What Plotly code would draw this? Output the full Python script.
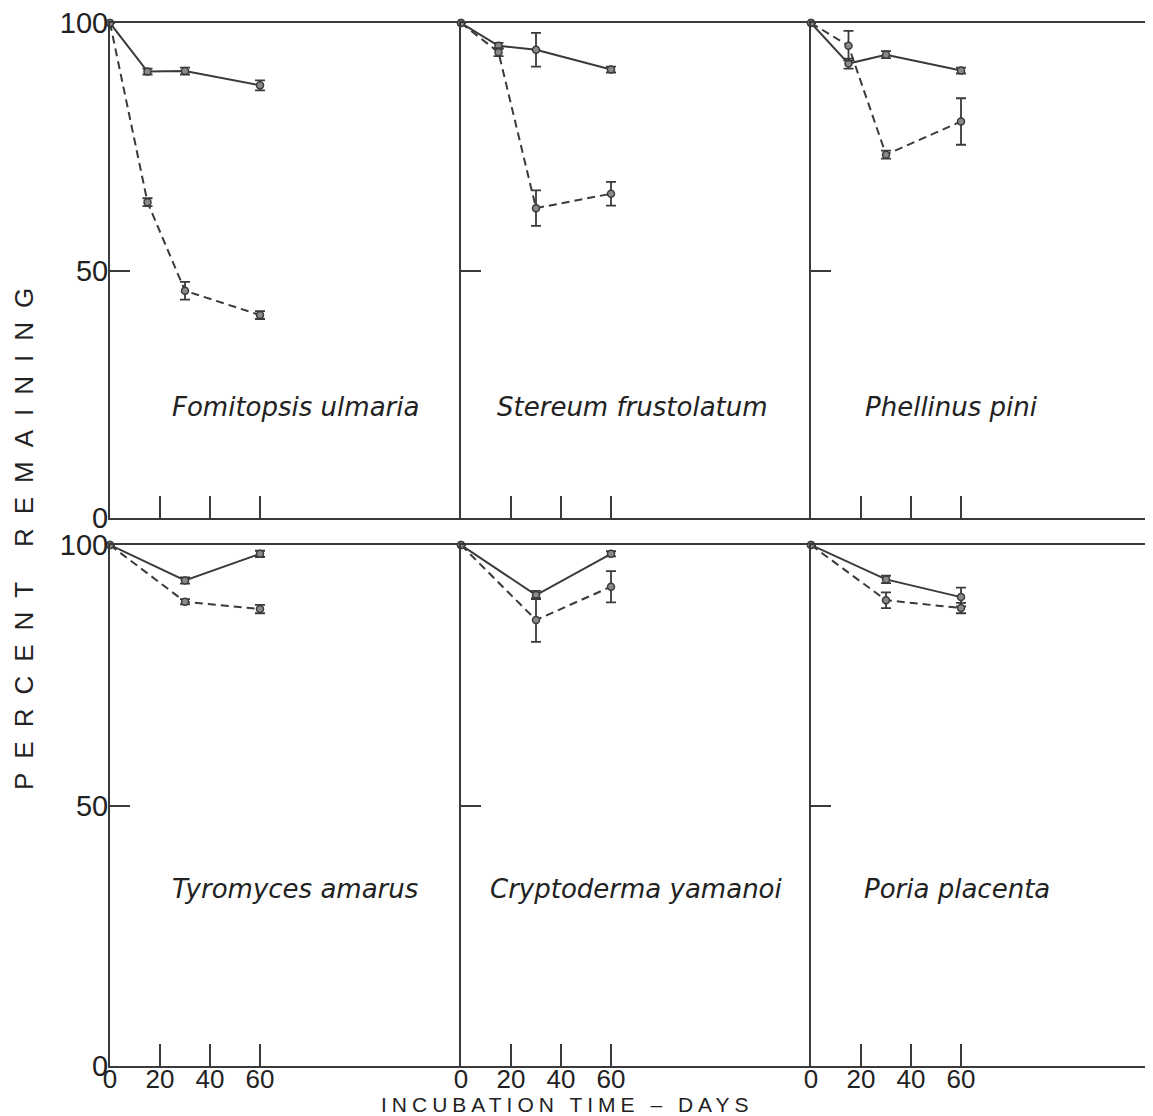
import plotly.graph_objects as go
from plotly.subplots import make_subplots

# ---------------- data ----------------
species = ["Fomitopsis ulmaria", "Stereum frustolatum", "Phellinus pini",
           "Tyromyces amarus", "Cryptoderma yamanoi", "Poria placenta"]

days_top = [0, 15, 30, 60]
days_bottom = [0, 30, 60]

# solid-line series (percent remaining) and half-error
fu_solid = [100, 90.2, 90.3, 87.4]
fu_solid_err = [0, 0.6, 0.7, 1.0]
fu_dashed = [100, 63.8, 45.9, 41.0]
fu_dashed_err = [0, 0.8, 1.8, 0.8]

sf_solid = [100, 95.4, 94.6, 90.6]
sf_solid_err = [0, 0.6, 3.4, 0.6]
sf_dashed = [100, 94.1, 62.6, 65.5]
sf_dashed_err = [0, 0.8, 3.6, 2.4]

pp_solid = [100, 91.8, 93.6, 90.4]
pp_solid_err = [0, 1.0, 0.7, 0.6]
pp_dashed = [100, 95.4, 73.4, 80.1]
pp_dashed_err = [0, 3.0, 0.8, 4.7]

ta_solid = [100, 93.2, 98.3]
ta_solid_err = [0, 0.6, 0.6]
ta_dashed = [100, 89.1, 87.7]
ta_dashed_err = [0, 0.5, 0.8]

cy_solid = [100, 90.4, 98.3]
cy_solid_err = [0, 0.8, 0.5]
cy_dashed = [100, 85.6, 92.0]
cy_dashed_err = [0, 4.2, 3.0]

ppl_solid = [100, 93.4, 90.0]
ppl_solid_err = [0, 0.7, 1.8]
ppl_dashed = [100, 89.4, 87.9]
ppl_dashed_err = [0, 1.5, 1.0]

y_ticks = [0, 50, 100]
x_ticks = [0, 20, 40, 60]
x_tick_labels = ["0", "20", "40", "60"]

panels = [
    (days_top, fu_solid, fu_solid_err, fu_dashed, fu_dashed_err),
    (days_top, sf_solid, sf_solid_err, sf_dashed, sf_dashed_err),
    (days_top, pp_solid, pp_solid_err, pp_dashed, pp_dashed_err),
    (days_bottom, ta_solid, ta_solid_err, ta_dashed, ta_dashed_err),
    (days_bottom, cy_solid, cy_solid_err, cy_dashed, cy_dashed_err),
    (days_bottom, ppl_solid, ppl_solid_err, ppl_dashed, ppl_dashed_err),
]

# ---------------- figure ----------------
W, H = 1153, 1116
ML, MR, MT = 102, 0, 15
BOTTOM_AXIS = 1058          # pixel row of the lower x axis
TOP_ROW_BOTTOM = 510        # pixel row of the upper x axis
BOT_ROW_TOP = 537           # pixel row of the lower panel top
MB = H - BOTTOM_AXIS
PW = W - ML - MR
PH = H - MT - MB

INK = "#3a3a3a"
FONT = "Liberation Sans"

def py(p):
    """pixel row -> paper y"""
    return (BOTTOM_AXIS - p) / PH

def px(p):
    """pixel column -> paper x"""
    return (p - ML) / PW

fig = make_subplots(rows=2, cols=3, horizontal_spacing=0, vertical_spacing=0.02)

col_px = [(0, 350), (351, 701), (701, PW)]
x_ranges = [[0, 140], [0, 140], [0, (PW - 701) / 2.5]]
row_dom = {1: [py(TOP_ROW_BOTTOM), 1.0], 2: [0.0, py(BOT_ROW_TOP)]}

for i, (days, s, se, d, de) in enumerate(panels):
    r, c = i // 3 + 1, i % 3 + 1
    for vals, errs, dash in ((s, se, "solid"), (d, de, "dash")):
        fig.add_trace(go.Scatter(
            x=days, y=vals, mode="lines+markers",
            line=dict(color=INK, width=2,
                      dash="8px,5px" if dash == "dash" else "solid"),
            marker=dict(symbol="circle", size=7, color="#8a8a8a",
                        line=dict(color=INK, width=1.5)),
            error_y=dict(type="data", array=errs, visible=True,
                         color=INK, thickness=1.8, width=5),
            cliponaxis=False, showlegend=False, hoverinfo="skip"),
            row=r, col=c)

for i in range(6):
    r, c = i // 3 + 1, i % 3 + 1
    a0, a1 = col_px[c - 1]
    fig.update_xaxes(
        domain=[a0 / PW, a1 / PW], range=x_ranges[c - 1], automargin=False,
        showline=True, linecolor=INK, linewidth=2, mirror=True,
        ticks="inside", ticklen=22, tickwidth=2, tickcolor=INK,
        tickvals=x_ticks, ticktext=x_tick_labels,
        showticklabels=(r == 2), ticklabelstandoff=-11,
        ticklabeloverflow="allow",
        tickfont=dict(family=FONT, size=26, color="#222"),
        showgrid=False, zeroline=False, row=r, col=c)
    fig.update_yaxes(
        domain=row_dom[r], automargin=False,
        range=[0, 100], showline=True, linecolor=INK, linewidth=2,
        ticks="inside", ticklen=20, tickwidth=2, tickcolor=INK,
        tickvals=y_ticks, showticklabels=(c == 1), ticklabelstandoff=-6,
        ticklabeloverflow="allow",
        tickfont=dict(family=FONT, size=29, color="#222"),
        showgrid=False, zeroline=False, row=r, col=c)

# species names
label_pos = [(74, 22.4), (68.4, 22.4), (56, 22.4),
             (74, 34), (70, 34), (58.5, 34)]
for i, name in enumerate(species):
    k = "" if i == 0 else str(i + 1)
    fig.add_annotation(
        x=label_pos[i][0], y=label_pos[i][1], xref="x" + k, yref="y" + k,
        text=name, showarrow=False,
        font=dict(family="DejaVu Sans", size=26, color="#222", style="italic"))

# axis titles
fig.add_annotation(
    x=px(-1), y=py(524), xref="paper", yref="paper", xanchor="left",
    text='<span style="letter-spacing:14px">PERCENT REMAINING</span>',
    textangle=-90, showarrow=False,
    font=dict(family=FONT, size=26, color="#222"))
fig.add_annotation(
    x=px(559), y=py(1110), xref="paper", yref="paper", yanchor="bottom",
    text='<span style="letter-spacing:5px">INCUBATION TIME \u2013 DAYS</span>',
    showarrow=False,
    font=dict(family=FONT, size=21, color="#222"))

fig.update_layout(
    width=W, height=H,
    margin=dict(l=ML, r=MR, t=MT, b=MB),
    paper_bgcolor="white", plot_bgcolor="white",
    font=dict(family=FONT, color="#222"),
)

fig.write_html("out.html")
